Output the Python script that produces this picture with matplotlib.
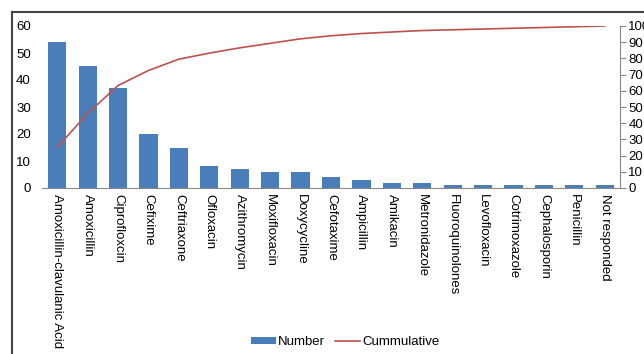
import numpy as np
import matplotlib.pyplot as plt

plt.rcParams['font.family'] = ['Liberation Sans', 'DejaVu Sans']

drugs = ['Amoxicillin-clavulanic Acid', 'Amoxicillin', 'Ciprofloxcin', 'Cefixime',
         'Ceftriaxone', 'Ofloxacin', 'Azithromycin', 'Moxifloxacin', 'Doxycycline',
         'Cefotaxime', 'Ampicillin', 'Amikacin', 'Metronidazole', 'Fluoroquinolones',
         'Levofloxacin', 'Cotrimoxazole', 'Cephalosporin', 'Penicillin', 'Not responded']
number = [54, 45, 37, 20, 15, 8, 7, 6, 6, 4, 3, 2, 2, 1, 1, 1, 1, 1, 1]

# cumulative share in percent
cum = np.cumsum(number) / np.sum(number) * 100

fig = plt.figure(figsize=(6.44, 3.54), dpi=100)

# outer chart border: a blank axes that runs off the right and bottom edges
bx, by = 11.5/644, 1 - 12/354
frame = fig.add_axes([bx, -0.1, 1.2, by + 0.1], zorder=-1)
frame.set_xticks([])
frame.set_yticks([])
frame.patch.set_alpha(0)
for s in frame.spines.values():
    s.set_color('#444444')
    s.set_linewidth(1.5)

ax = fig.add_axes([42/644, 1-188/354, (620-42)/644, (188-26)/354])
x = np.arange(len(drugs))
bars = ax.bar(x, number, width=0.6, color='#4a7ebb', label='Number', zorder=2)
ax.set_xlim(-0.5, len(drugs)-0.5)
ax.set_ylim(0, 60)
ax.set_yticks(range(0, 61, 10))
ax.set_xticks(x)
ax.set_xticklabels(drugs, rotation=270, fontsize=9.5, va='top', ha='center')
ax.tick_params(axis='x', length=0, pad=4)
ax.tick_params(axis='y', length=0, labelsize=9.5, pad=8)
ax.patch.set_alpha(0)
for s in ['top', 'left', 'right']:
    ax.spines[s].set_visible(False)
ax.spines['bottom'].set_color('#888888')

ax2 = ax.twinx()
line, = ax2.plot(x, cum, color='#c0504d', lw=1.2, label='Cummulative', zorder=3)
ax2.set_ylim(0, 100)
ax2.set_yticks(range(0, 101, 10))
ax2.tick_params(axis='y', length=4, direction='out', color='#888888', labelsize=9.5, pad=2)
for s in ['top', 'left', 'bottom']:
    ax2.spines[s].set_visible(False)
ax2.spines['right'].set_color('#888888')

fig.legend([bars, line], ['Number', 'Cummulative'], loc='center', bbox_to_anchor=(345/644, 1-342/354),
           ncol=2, frameon=False, fontsize=9.5, handlelength=1.9, handleheight=0.45,
           handletextpad=0.15, columnspacing=0.8)

fig.savefig('out.png', dpi=100)
